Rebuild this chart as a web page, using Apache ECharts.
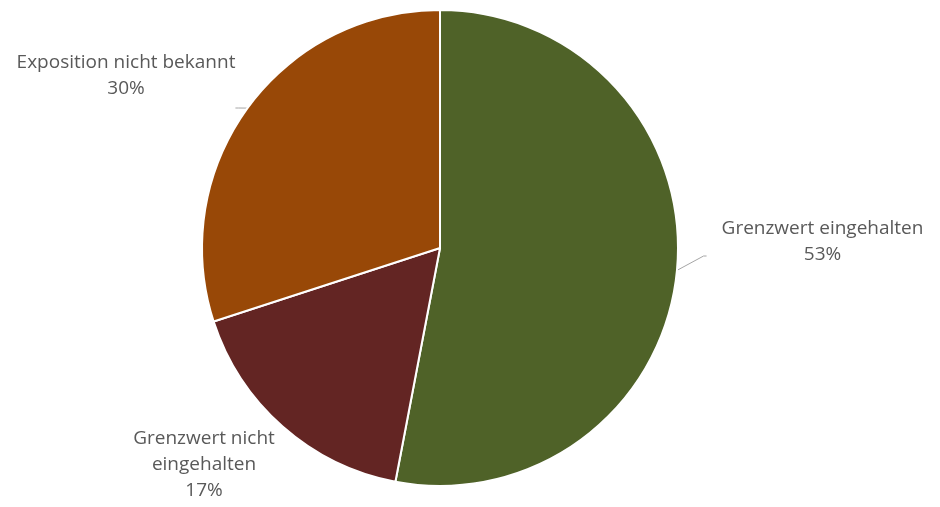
<!DOCTYPE html>
<html>
<head>
<meta charset="utf-8">
<script src="https://cdn.jsdelivr.net/npm/echarts@6/dist/echarts.min.js"></script>
<style>
  html, body { margin: 0; padding: 0; background: #ffffff; }
  #chart { width: 940px; height: 507px; }
</style>
</head>
<body>
<div id="chart"></div>
<script>
const categories = ["Grenzwert eingehalten", "Grenzwert nicht\neingehalten", "Exposition nicht bekannt"];
const shares = [53, 17, 30];
const sliceColors = ["#4f6228", "#632523", "#984807"];

// label block centres, Excel-style placement; the empty spacer line pushes
// the block's middle (where the leader line attaches) down to the line's height
const labelSpots = [
  { x: 815, y: 256, spacer: 28, pad: [0, 0, 0, 15], line: true },
  { x: 204, y: 465, spacer: 0, pad: 0, line: false },
  { x: 115, y: 108, spacer: 64, pad: [0, -22, 0, 0], line: true }
];

const chart = echarts.init(document.getElementById("chart"));

chart.setOption({
  backgroundColor: "#ffffff",
  animation: false,
  series: [
    {
      type: "pie",
      center: [440, 248],
      radius: 238,
      startAngle: 90,
      clockwise: true,
      data: categories.map((name, i) => ({
        name: name,
        value: shares[i],
        itemStyle: { color: sliceColors[i] },
        label: {
          padding: labelSpots[i].pad,
          rich: { s: { lineHeight: labelSpots[i].spacer, fontSize: 1 } }
        },
        labelLine: { show: labelSpots[i].line }
      })),
      itemStyle: {
        borderColor: "#ffffff",
        borderWidth: 2
      },
      label: {
        show: true,
        position: "outside",
        formatter: function (p) {
          const txt = p.name + "\n" + Math.round(p.percent) + "%";
          return labelSpots[p.dataIndex].spacer ? txt + "\n{s| }" : txt;
        },
        fontFamily: "Open Sans",
        fontSize: 19,
        lineHeight: 26,
        color: "#595959",
        align: "center"
      },
      labelLine: {
        show: true,
        length: 10,
        length2: 3,
        lineStyle: { color: "#a6a6a6", width: 1 }
      },
      labelLayout: function (params) {
        const spot = labelSpots[params.dataIndex];
        return {
          x: spot.x,
          y: spot.y,
          align: "center",
          verticalAlign: "middle"
        };
      }
    }
  ]
});
</script>
</body>
</html>
